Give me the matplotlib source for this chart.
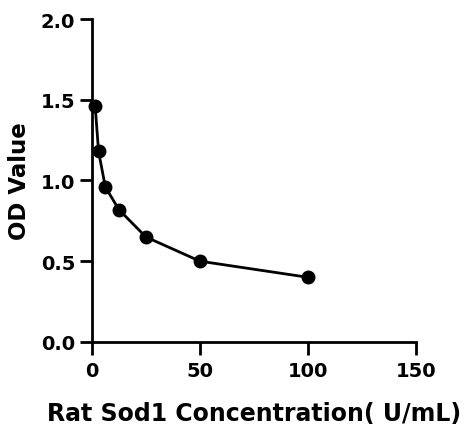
import matplotlib
matplotlib.use('Agg')
import matplotlib.pyplot as plt

plt.rcParams['font.family'] = ['DejaVu Sans']
plt.rcParams['font.weight'] = 'bold'

conc = [1.5625, 3.125, 6.25, 12.5, 25, 50, 100]
od = [1.46, 1.18, 0.96, 0.82, 0.65, 0.50, 0.40]
xticks = [0, 50, 100, 150]
yticks = [0.0, 0.5, 1.0, 1.5, 2.0]

fig = plt.figure(figsize=(4.66, 4.27), dpi=100)
ax = fig.add_axes([0.197, 0.197, 0.696, 0.756])

ax.plot(conc, od, color='black', lw=2, marker='o', markersize=9, clip_on=False)

ax.set_xlim(0, 150)
ax.set_ylim(0, 2.0)
ax.set_xticks(xticks)
ax.set_yticks(yticks)
ax.set_yticklabels(['%.1f' % v for v in yticks])
ax.spines['top'].set_visible(False)
ax.spines['right'].set_visible(False)
for s in ['left', 'bottom']:
    ax.spines[s].set_linewidth(2)
ax.tick_params(width=2, length=9, labelsize=14, pad=3)
ax.tick_params(axis='x', pad=5)
for lab in ax.get_xticklabels() + ax.get_yticklabels():
    lab.set_fontweight('bold')

ax.set_xlabel('Rat Sod1 Concentration( U/mL)', fontsize=17, fontweight='bold', labelpad=15)
ax.set_ylabel('OD Value', fontsize=16.5, fontweight='bold', labelpad=7)

fig.savefig('out.png', dpi=100)
